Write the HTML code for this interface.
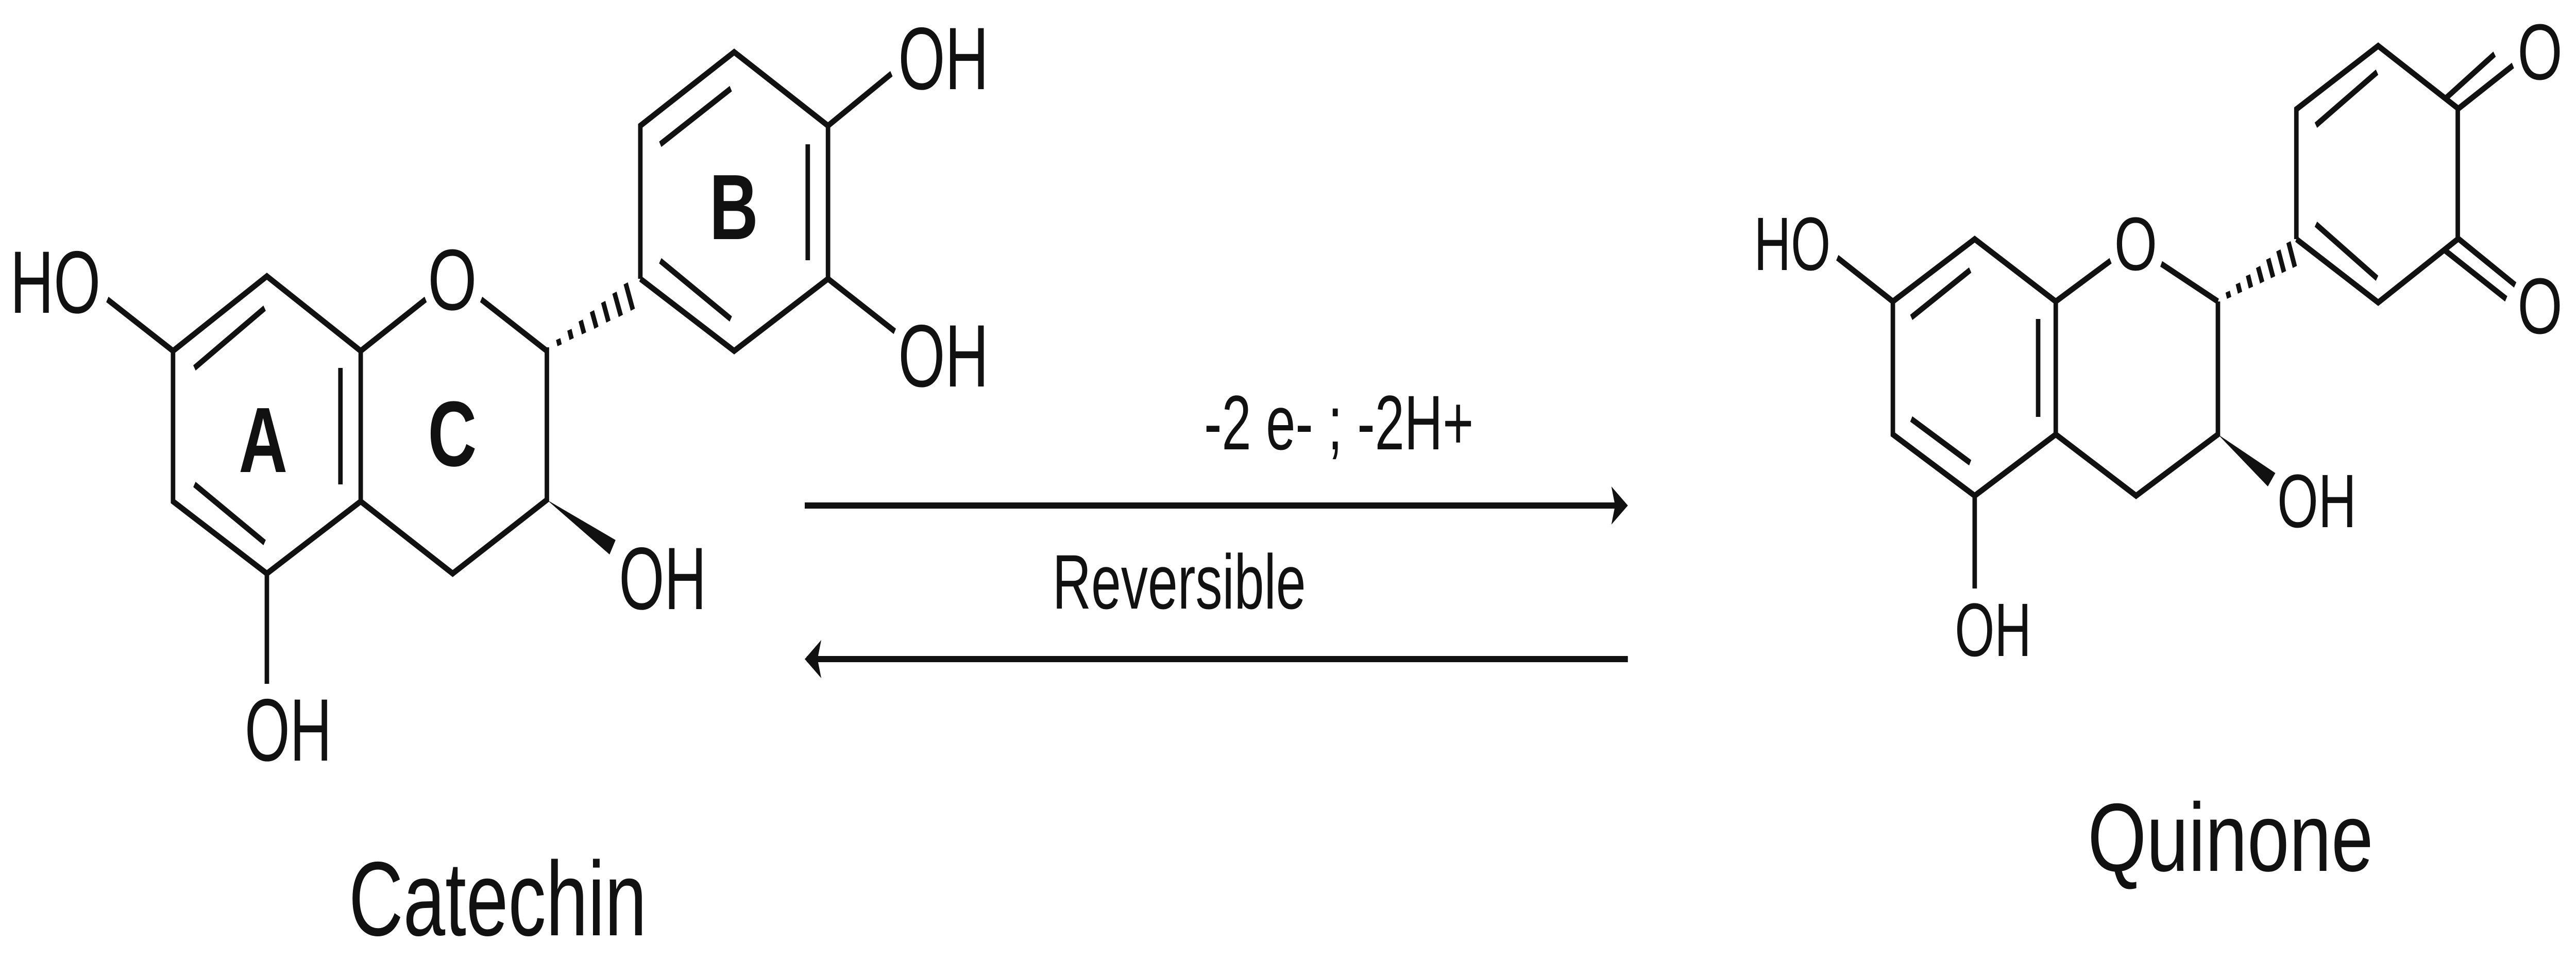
<!DOCTYPE html>
<html><head><meta charset="utf-8"><style>
html,body{margin:0;padding:0;background:#fff;width:100%;height:100%;overflow:hidden;}
svg{position:absolute;left:0;top:0;display:block;width:100vw;height:100vh;}
text{font-family:"Liberation Sans","DejaVu Sans",sans-serif;fill:#111;}
</style></head><body>
<svg viewBox="0 0 6863 1861" preserveAspectRatio="none" xmlns="http://www.w3.org/2000/svg">
<g stroke="#111" stroke-width="12" fill="none" stroke-linecap="butt" stroke-linejoin="miter">
<polyline points="461,681 711,536 961,681 961,973 711,1113 461,973 461,681"/>
<line x1="518" y1="714" x2="705" y2="598"/>
<line x1="518" y1="940" x2="705" y2="1053"/>
<line x1="907" y1="714" x2="907" y2="940"/>
<line x1="286" y1="581" x2="461" y2="681"/>
<line x1="711" y1="1113" x2="711" y2="1327"/>
<line x1="961" y1="681" x2="1134" y2="581"/>
<line x1="1282" y1="581" x2="1457" y2="681"/>
<polyline points="1457,674 1457,970 1206,1113 961,973"/>
<polyline points="1706,541 1706,244 1956,101 2206,244 2206,541 1956,681 1706,541"/>
<line x1="1759" y1="280" x2="1947" y2="172"/>
<line x1="2152" y1="280" x2="2152" y2="505"/>
<line x1="1759" y1="506" x2="1947" y2="619"/>
<line x1="2206" y1="244" x2="2375" y2="143"/>
<line x1="2206" y1="541" x2="2384" y2="643"/>
<polyline points="5043,585 5261,464 5477,585 5477,843 5261,962 5043,843 5043,585"/>
<line x1="5092" y1="616" x2="5249" y2="524"/>
<line x1="5092" y1="813" x2="5249" y2="898"/>
<line x1="5430" y1="619" x2="5430" y2="809"/>
<line x1="4895" y1="500" x2="5043" y2="585"/>
<line x1="5261" y1="962" x2="5261" y2="1142"/>
<line x1="5477" y1="585" x2="5623" y2="506"/>
<line x1="5758" y1="512" x2="5909" y2="585"/>
<polyline points="5909,585 5909,843 5691,962 5477,843"/>
<polyline points="6118,464 6118,212 6336,89 6548,210 6548,464 6336,587 6118,464"/>
<line x1="6170" y1="243" x2="6333" y2="140"/>
<line x1="6170" y1="435" x2="6333" y2="540"/>
<line x1="6514" y1="192" x2="6646" y2="105"/>
<line x1="6551" y1="210" x2="6695" y2="127"/>
<line x1="6514" y1="486" x2="6677" y2="580"/>
<line x1="6551" y1="464" x2="6701" y2="553"/>
<line x1="2144" y1="981" x2="4330" y2="981"/>
<line x1="2150" y1="1279" x2="4337" y2="1279"/>
</g>
<path d="M4293,944 L4337,981 L4293,1018 L4303,981 Z" fill="#111"/>
<path d="M2188,1242 L2144,1279 L2188,1316 L2178,1279 Z" fill="#111"/>
<polygon points="1457,970 1640,1048 1624,1076" fill="#111"/>
<polygon points="5909,843 6062,918 6042,944" fill="#111"/>
<g stroke="#111" stroke-width="12">
<line x1="1487" y1="658" x2="1491" y2="670"/>
<line x1="1517" y1="640" x2="1523" y2="658"/>
<line x1="1547" y1="622" x2="1556" y2="647"/>
<line x1="1577" y1="604" x2="1589" y2="636"/>
<line x1="1607" y1="586" x2="1621" y2="624"/>
<line x1="1637" y1="568" x2="1654" y2="613"/>
<line x1="1667" y1="550" x2="1686" y2="601"/>
<line x1="5935" y1="566" x2="5939" y2="578"/>
<line x1="5962" y1="550" x2="5968" y2="568"/>
<line x1="5989" y1="534" x2="5997" y2="558"/>
<line x1="6016" y1="518" x2="6027" y2="548"/>
<line x1="6043" y1="502" x2="6056" y2="538"/>
<line x1="6070" y1="486" x2="6085" y2="528"/>
<line x1="6097" y1="470" x2="6114" y2="518"/>
</g>
<text x="27" y="607" font-size="172" textLength="241" lengthAdjust="spacingAndGlyphs">HO</text>
<text x="1205" y="601" font-size="168" text-anchor="middle">O</text>
<text x="2393" y="173" font-size="172" textLength="241" lengthAdjust="spacingAndGlyphs">OH</text>
<text x="2393" y="750" font-size="172" textLength="241" lengthAdjust="spacingAndGlyphs">OH</text>
<text x="1649" y="1182" font-size="172" textLength="233" lengthAdjust="spacingAndGlyphs">OH</text>
<text x="652" y="1476" font-size="172" textLength="232" lengthAdjust="spacingAndGlyphs">OH</text>
<text x="701" y="916" font-size="180" font-weight="bold" text-anchor="middle">A</text>
<text x="1205" y="904" font-size="180" font-weight="bold" text-anchor="middle">C</text>
<text x="1955" y="464" font-size="180" font-weight="bold" text-anchor="middle">B</text>
<text x="929" y="1815" font-size="205" textLength="794" lengthAdjust="spacingAndGlyphs">Catechin</text>
<text x="3208" y="872" font-size="150" textLength="718" lengthAdjust="spacingAndGlyphs">-2 e- ;  -2H+</text>
<text x="2804" y="1181" font-size="150" textLength="675" lengthAdjust="spacingAndGlyphs">Reversible</text>
<text x="4673" y="524" font-size="147" textLength="204" lengthAdjust="spacingAndGlyphs">HO</text>
<text x="5690" y="524" font-size="147" text-anchor="middle">O</text>
<text x="6067" y="1023" font-size="147" textLength="211" lengthAdjust="spacingAndGlyphs">OH</text>
<text x="5208" y="1273" font-size="147" textLength="204" lengthAdjust="spacingAndGlyphs">OH</text>
<text x="6767" y="154" font-size="154" text-anchor="middle">O</text>
<text x="6767" y="647" font-size="154" text-anchor="middle">O</text>
<text x="5562" y="1690" font-size="188" textLength="761" lengthAdjust="spacingAndGlyphs">Quinone</text>
</svg>
</body></html>
